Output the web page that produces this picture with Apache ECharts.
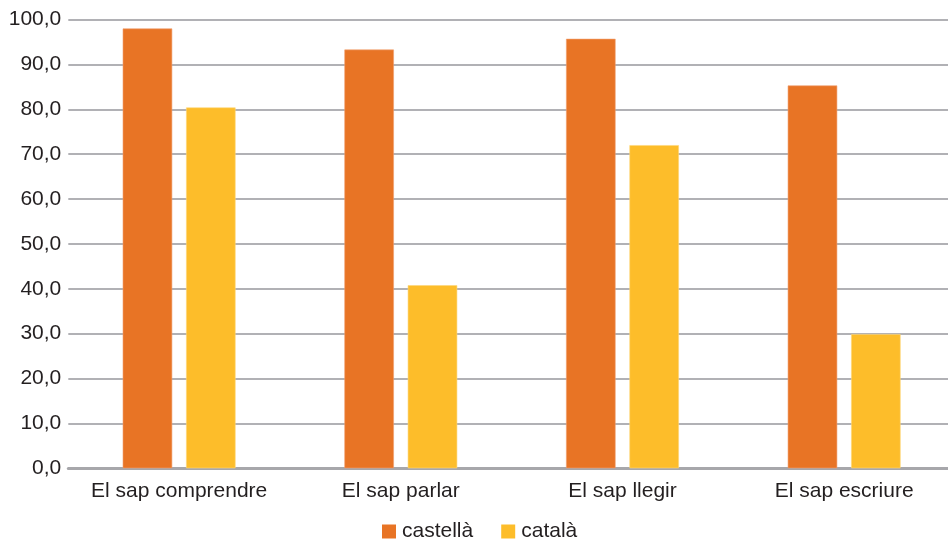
<!DOCTYPE html>
<html>
<head>
<meta charset="utf-8">
<script src="https://cdn.jsdelivr.net/npm/echarts@6/dist/echarts.min.js"></script>
<style>
  html, body { margin: 0; padding: 0; background: #ffffff; overflow: hidden; }
  /* the plot runs a few pixels past the right edge of the window */
  #chart { width: 955px; height: 540px; }
</style>
</head>
<body>
<div id="chart"></div>
<script>
// Skills per language (percent)
const categories = ['El sap comprendre', 'El sap parlar', 'El sap llegir', 'El sap escriure'];
const castella = [98.0, 93.3, 95.7, 85.3];
const catala = [80.4, 40.8, 72.0, 29.9];
const seriesNames = ['castellà', 'català'];

const fmt = v => v.toFixed(1).replace('.', ',');
const textColor = '#231f20';
const fontFamily = '"Liberation Sans", Helvetica, Arial, sans-serif';

const chart = echarts.init(document.getElementById('chart'), null, { renderer: 'canvas' });
chart.setOption({
  animation: false,
  color: ['#e87425', '#fdbd2a'],
  textStyle: { fontFamily: fontFamily, color: textColor },
  grid: { left: 68.3, right: 0, top: 19.5, bottom: 71.7, containLabel: false },
  legend: {
    top: 521,
    left: 382,
    padding: 0,
    itemWidth: 14,
    itemHeight: 14,
    itemGap: 28,
    icon: 'rect',
    itemStyle: { borderWidth: 0 },
    textStyle: { fontSize: 21, color: textColor, fontFamily: fontFamily, padding: [0, 0, 0, 1] },
    data: seriesNames
  },
  xAxis: {
    type: 'category',
    data: categories,
    axisLine: { show: true, lineStyle: { color: '#a7a7ab', width: 3 } },
    axisTick: { show: false },
    axisLabel: { fontSize: 21, color: textColor, margin: 12, interval: 0, fontFamily: fontFamily }
  },
  yAxis: {
    type: 'value',
    min: 0,
    max: 100,
    interval: 10,
    axisLine: { show: false },
    axisTick: { show: false },
    axisLabel: { fontSize: 21, color: textColor, margin: 7, fontFamily: fontFamily, formatter: fmt },
    splitLine: { lineStyle: { color: '#b1b1b5', width: 2 } }
  },
  series: [
    {
      name: seriesNames[0],
      type: 'bar',
      data: castella,
      barWidth: 49.5,
      barGap: '28%',
      itemStyle: { color: '#e87425', borderColor: '#f0a070', borderWidth: 0.6 }
    },
    {
      name: seriesNames[1],
      type: 'bar',
      data: catala,
      barWidth: 49.5,
      barGap: '28%',
      itemStyle: { color: '#fdbd2a', borderColor: '#fed77a', borderWidth: 0.6 }
    }
  ]
});
</script>
</body>
</html>
